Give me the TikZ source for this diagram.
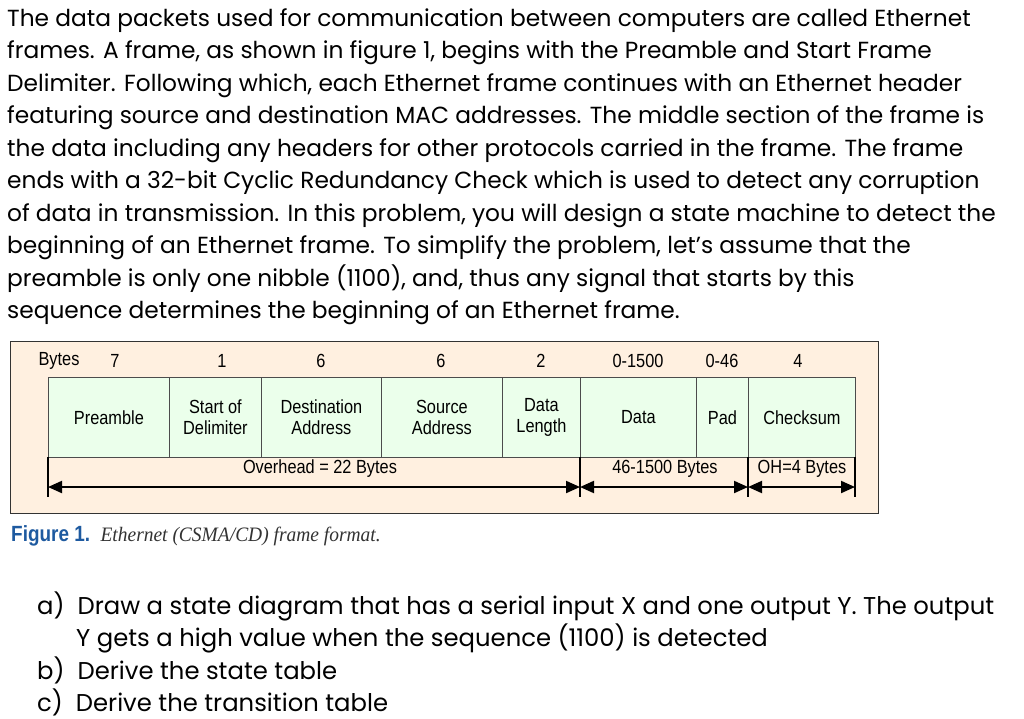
\documentclass[tikz,border=0pt]{standalone}
\usepackage{fontspec}
\setmainfont{Poppins}
\newfontfamily\arialf[FakeStretch=0.86]{Liberation Sans}
\newfontfamily\timesf[FakeStretch=0.95]{Liberation Serif}
\usetikzlibrary{arrows.meta}
\begin{document}
\begin{tikzpicture}[x=1pt,y=-1pt,
 para/.style={anchor=base west,inner sep=0pt,font=\fontsize{23.3}{26}\selectfont},
 qpara/.style={anchor=base west,inner sep=0pt,font=\fontsize{24.3}{27}\selectfont},
 cell/.style={draw=black!70,fill=green!8,line width=0.8pt,align=center,font=\arialf\fontsize{19}{21}\selectfont,inner sep=0pt},
 lbl/.style={font=\arialf\fontsize{19}{21}\selectfont,inner sep=0pt},
 dim/.style={line width=2pt,{Triangle[length=14pt,width=12pt]}-{Triangle[length=14pt,width=12pt]}}]
\useasboundingbox (0,0) rectangle (1024,718);
\fill[white] (0,0) rectangle (1024,718);
\foreach \t [count=\i] in {
The data packets used for communication between computers are called Ethernet,
frames. A frame{,} as shown in figure 1{,} begins with the Preamble and Start Frame,
Delimiter. Following which{,} each Ethernet frame continues with an Ethernet header,
featuring source and destination MAC addresses. The middle section of the frame is,
the data including any headers for other protocols carried in the frame. The frame,
ends with a 32-bit Cyclic Redundancy Check which is used to detect any corruption,
of data in transmission. In this problem{,} you will design a state machine to detect the,
beginning of an Ethernet frame. To simplify the problem{,} let’s assume that the,
preamble is only one nibble (1100){,} and{,} thus any signal that starts by this,
sequence determines the beginning of an Ethernet frame.}
 \node[para] (p\i) at (7,{26+32.5*(\i-1)}) {\t};
% figure box
\node[draw=black!80,fill=orange!12,line width=1.2pt,minimum width=868pt,minimum height=172pt,anchor=north west,inner sep=0pt] (box) at (10,341) {};
\foreach \a/\b/\t/\n in {48/169/Preamble/c1,169/261/Start of\\Delimiter/c2,261/381/Destination\\Address/c3,381/502/Source\\Address/c4,502/580/Data\\Length/c5,580/696/Data/c6,696/748/Pad/c7,748/855/Checksum/c8}
 \node[cell,minimum width={\b-\a},minimum height=80pt,anchor=north west] (\n) at (\a,377) {\t};
\node[lbl] (by) at (59,361) {Bytes};
\foreach \x/\t/\n in {115/7/b1,222/1/b2,321/6/b3,441/6/b4,541/2/b5,638/0-1500/b6,722/0-46/b7,798/4/b8}
 \node[lbl] (\n) at (\x,361) {\t};
% dimension bars
\foreach \x/\n in {48/v1,580/v2,748/v3,855/v4}{
 \coordinate (\n t) at (\x,457); \coordinate (\n b) at (\x,497);
 \draw[line width=1.2pt] (\n t) -- (\n b);}
\coordinate (a1) at (48,487); \coordinate (a2) at (580,487);
\coordinate (a3) at (748,487); \coordinate (a4) at (855,487);
\draw[dim] (a1) -- (a2); \draw[dim] (a2) -- (a3); \draw[dim] (a3) -- (a4);
\node[lbl] (o1) at (320,469) {Overhead = 22 Bytes};
\node[lbl] (o2) at (665,469) {46-1500 Bytes};
\node[lbl] (o3) at (802,469) {OH=4 Bytes};
\node[anchor=base west,inner sep=0pt] (cap) at (11,541) {\arialf\bfseries\fontsize{22}{24}\selectfont\color[RGB]{30,90,160}Figure 1.\ \ \timesf\mdseries\itshape\color{black!80}\fontsize{20.5}{22}\selectfont Ethernet (CSMA/CD) frame format.};
% questions
\node[qpara] (qa) at (37,614) {a)\ \ Draw a state diagram that has a serial input X and one output Y. The output};
\node[qpara] (qa2) at (76,646) {Y gets a high value when the sequence (1100) is detected};
\node[qpara] (qb) at (37,679) {b)\ \ Derive the state table};
\node[qpara] (qc) at (37,711) {c)\ \ Derive the transition table};
\end{tikzpicture}
\end{document}
